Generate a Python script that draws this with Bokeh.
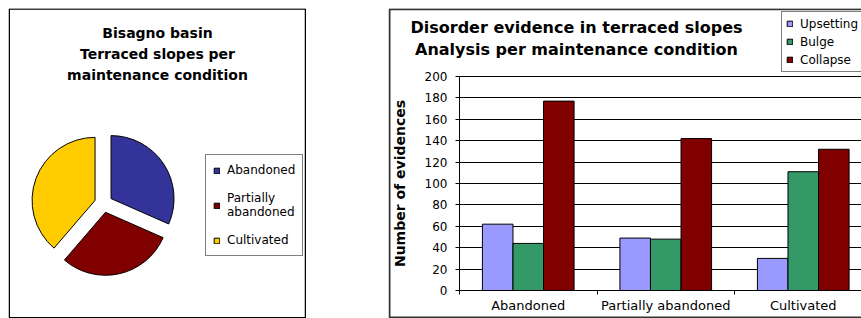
from bokeh.plotting import figure
from bokeh.models import (Range1d, FixedTicker, Legend, LegendItem, BoxAnnotation,
                          Label, Spacer, LinearAxis, Grid)
from bokeh.layouts import row
from bokeh.embed import file_html
from bokeh.resources import INLINE
from bokeh.core.properties import value
import math

# ---------------- data ----------------
pie_categories = ["Abandoned", "Partially abandoned", "Cultivated"]
pie_values = [31.6, 29.7, 38.7]
pie_colors = ["#333399", "#800000", "#FFCC00"]
pie_title = ["Bisagno basin", "Terraced slopes per", "maintenance condition"]

bar_categories = ["Abandoned", "Partially abandoned", "Cultivated"]
series_names = ["Upsetting", "Bulge", "Collapse"]
upsetting = [62, 49, 30]
bulge = [44, 48, 111]
collapse = [177, 142, 132]
series_colors = ["#9999FF", "#339966", "#800000"]
bar_title = ["Disorder evidence in terraced slopes", "Analysis per maintenance condition"]
y_ticks = list(range(0, 201, 20))
y_label = "Number of evidences"

FONT = "DejaVu Sans"

# ---------------- pie chart ----------------
W1, H1 = 298, 310
p1 = figure(width=W1, height=H1, x_range=Range1d(0, W1), y_range=Range1d(0, H1),
            output_backend="svg", toolbar_location=None, min_border=0,
            x_axis_location=None, y_axis_location=None)
p1.grid.visible = False
p1.outline_line_color = None
p1.background_fill_color = "white"
p1.border_fill_color = "white"

cx, cy, R, d = 95, 115, 63, 9
total = sum(pie_values)
cum = 0.0
pie_items = []
for cat, v, col in zip(pie_categories, pie_values, pie_colors):
    f0 = cum / total
    cum += v
    f1 = cum / total
    a_start = math.pi / 2 - 2 * math.pi * f1
    a_end = math.pi / 2 - 2 * math.pi * f0
    mid = (a_start + a_end) / 2
    r = p1.wedge(x=cx + d * math.cos(mid), y=cy + d * math.sin(mid), radius=R,
                 start_angle=a_start, end_angle=a_end, fill_color=col,
                 line_color="black", line_width=1)
    lab = cat.replace(" ", "\n", 1) if len(cat) > 12 else cat
    pie_items.append(LegendItem(label=lab, renderers=[r]))

p1.text(x=[W1 / 2] * 3, y=[286, 265, 244], text=pie_title, text_align="center",
        text_baseline="middle", text_font=value(FONT), text_font_style="bold",
        text_font_size="14px", text_color="black")

leg1 = Legend(items=pie_items, location=(197, 62), orientation="vertical",
              label_text_font=FONT, label_text_font_size="12px",
              label_text_color="black",
              glyph_width=7, glyph_height=7, label_standoff=7, padding=7,
              spacing=13, label_height=16, margin=0,
              border_line_color="black", border_line_width=1,
              background_fill_color="white", background_fill_alpha=1)
p1.add_layout(leg1, "center")

p1.add_layout(BoxAnnotation(left=0.75, right=297, bottom=0.75, top=309.5,
                            fill_alpha=0, line_color="black", line_alpha=1,
                            line_width=1.5))

# ---------------- bar chart ----------------
W2, H2 = 473, 310
cat_w_px = 137.5          # pixels per category
px_per_unit = 214 / 200   # pixels per count
left_px, bottom_px, top_px = 71, 28, 68
x_start = -left_px / cat_w_px
x_end = (W2 - left_px) / cat_w_px
y_start = -bottom_px / px_per_unit
y_end = 200 + top_px / px_per_unit

p2 = figure(width=W2, height=H2, x_range=Range1d(x_start, x_end),
            y_range=Range1d(y_start, y_end), output_backend="svg",
            toolbar_location=None, min_border=0,
            x_axis_location=None, y_axis_location=None)
p2.grid.visible = False
p2.outline_line_color = None
p2.background_fill_color = "white"
p2.border_fill_color = "white"

p2.add_layout(Grid(dimension=1, ticker=FixedTicker(ticks=y_ticks),
                   grid_line_color="black", grid_line_width=1,
                   cross_bounds=(0, x_end + 1)))

bw = 1 / 4.5
series = [upsetting, bulge, collapse]
bar_items = []
for j, (name, vals, col) in enumerate(zip(series_names, series, series_colors)):
    xs = [i + 0.5 + (j - 1) * bw for i in range(len(bar_categories))]
    r = p2.vbar(x=xs, top=vals, bottom=0, width=bw, fill_color=col,
                line_color="black", line_width=1)
    bar_items.append(LegendItem(label=name, renderers=[r]))

centers = [i + 0.5 for i in range(len(bar_categories))]
xaxis = LinearAxis(fixed_location=0, bounds=(0, x_end + 1))
xaxis.ticker = FixedTicker(ticks=centers, minor_ticks=list(range(len(bar_categories) + 1)))
xaxis.major_label_overrides = {c: n for c, n in zip(centers, bar_categories)}
xaxis.major_tick_out = 0
xaxis.major_tick_in = 0
xaxis.minor_tick_out = 4
xaxis.minor_tick_in = 0
xaxis.minor_tick_line_color = "black"
xaxis.axis_line_color = "black"
xaxis.major_label_standoff = 3
xaxis.major_label_text_font = FONT
xaxis.major_label_text_font_size = "13px"
xaxis.major_label_text_color = "black"
p2.add_layout(xaxis, "below")

yaxis = LinearAxis(fixed_location=0, bounds=(0, 200))
yaxis.ticker = FixedTicker(ticks=y_ticks)
yaxis.major_tick_out = 4
yaxis.major_tick_in = 0
yaxis.minor_tick_line_color = None
yaxis.major_tick_line_color = "black"
yaxis.axis_line_color = "black"
yaxis.major_label_standoff = 8
yaxis.major_label_text_font = FONT
yaxis.major_label_text_font_size = "12px"
yaxis.major_label_text_color = "black"
yaxis.axis_label = y_label
yaxis.axis_label_text_font = FONT
yaxis.axis_label_text_font_style = "bold"
yaxis.axis_label_text_font_size = "14px"
yaxis.axis_label_text_color = "black"
yaxis.axis_label_standoff = 14
p2.add_layout(yaxis, "left")

for line, py in zip(bar_title, [19, 41]):
    p2.add_layout(Label(x=(188 - left_px) / cat_w_px, y=(282 - py) / px_per_unit,
                        text=line, text_align="center", text_baseline="middle",
                        text_font=FONT, text_font_style="bold",
                        text_font_size="16px", text_color="black"))

leg2 = Legend(items=bar_items, location=(393, 246), orientation="vertical",
              label_text_font=FONT, label_text_font_size="12px",
              label_text_color="black",
              glyph_width=7, glyph_height=7, label_standoff=7, padding=4,
              spacing=3, label_height=15, margin=0,
              border_line_color="black", border_line_width=1,
              background_fill_color="white", background_fill_alpha=1)
p2.add_layout(leg2, "center")

# outer box of the bar chart
p2.add_layout(BoxAnnotation(left=x_start + 1 / cat_w_px, right=x_end + 0.2,
                            bottom=y_start + 1 / px_per_unit,
                            top=y_end - 0.75 / px_per_unit,
                            fill_alpha=0, line_color="#333333", line_alpha=1,
                            line_width=2))

layout = row(p1, Spacer(width=82, height=H1), p2, margin=(8, 0, 0, 8))
open("out.html", "w").write(file_html(layout, INLINE))
